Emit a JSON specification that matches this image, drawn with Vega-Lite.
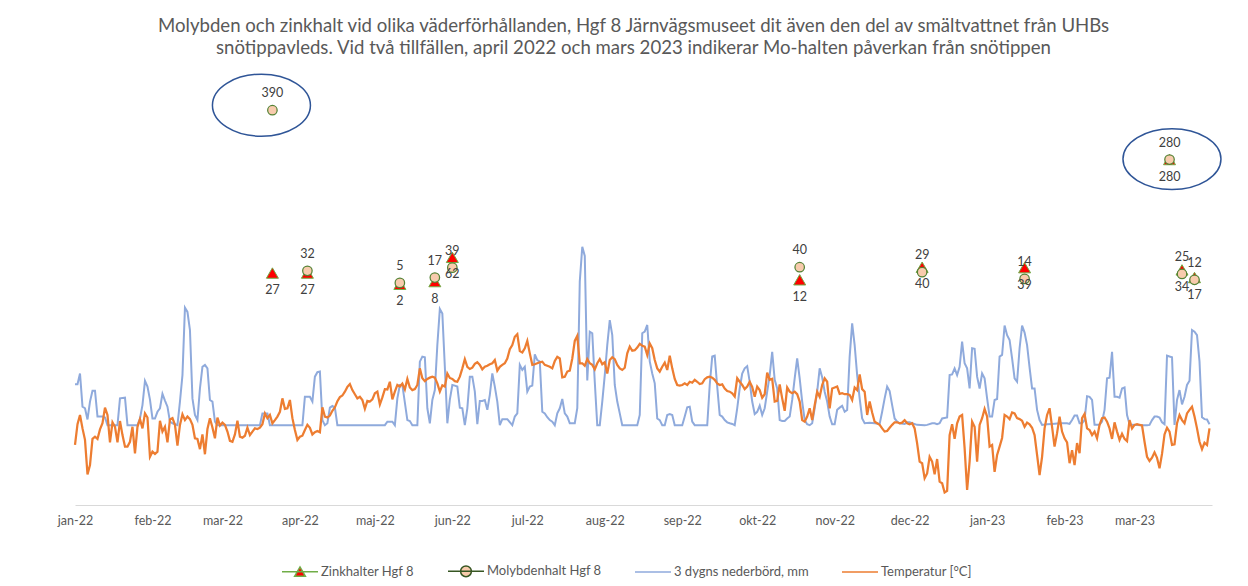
{
"$schema":"https://vega.github.io/schema/vega-lite/v6.json",
"width":1137,"height":415,
"autosize":{"type":"none"},
"padding":{"left":75,"top":90,"right":36,"bottom":81},
"background":"white",
"config":{"view":{"stroke":null},"font":"Lato"},
"title":{"text":["Molybden och zinkhalt vid olika väderförhållanden, Hgf 8 Järnvägsmuseet dit även den del av smältvattnet från UHBs","snötippavleds. Vid två tillfällen, april 2022 och mars 2023 indikerar Mo-halten påverkan från snötippen"],"anchor":"middle","fontSize":18.6,"fontWeight":"normal","color":"#595959","font":"Lato","lineHeight":22,"offset":14,"dx":-10},
"datasets":{
"precip":[
{"date":"2022/01/01","mm":12.8},{"date":"2022/01/02","mm":12.8},{"date":"2022/01/03","mm":16.2},{"date":"2022/01/04","mm":5.8},{"date":"2022/01/05","mm":5.3},{"date":"2022/01/06","mm":1.8},{"date":"2022/01/07","mm":7.4},{"date":"2022/01/08","mm":10.8},{"date":"2022/01/09","mm":10.8},{"date":"2022/01/10","mm":2.7},{"date":"2022/01/12","mm":2.7},{"date":"2022/01/13","mm":2.4},{"date":"2022/01/14","mm":0},{"date":"2022/01/18","mm":0},{"date":"2022/01/19","mm":8.4},{"date":"2022/01/21","mm":8.6},{"date":"2022/01/22","mm":0},{"date":"2022/01/26","mm":0},{"date":"2022/01/27","mm":2.1},{"date":"2022/01/28","mm":6.3},{"date":"2022/01/29","mm":13.9},{"date":"2022/01/30","mm":12.1},{"date":"2022/01/31","mm":8.0},
{"date":"2022/02/01","mm":2.1},{"date":"2022/02/02","mm":2.1},{"date":"2022/02/03","mm":4.2},{"date":"2022/02/04","mm":5.3},{"date":"2022/02/05","mm":9.8},{"date":"2022/02/06","mm":7.7},{"date":"2022/02/07","mm":5.8},{"date":"2022/02/08","mm":1.1},{"date":"2022/02/09","mm":0.6},{"date":"2022/02/11","mm":0},{"date":"2022/02/12","mm":7.4},{"date":"2022/02/13","mm":15.7},{"date":"2022/02/14","mm":36.8},{"date":"2022/02/15","mm":35.5},{"date":"2022/02/16","mm":29.8},{"date":"2022/02/17","mm":8.4},{"date":"2022/02/18","mm":3.2},{"date":"2022/02/19","mm":1.6},{"date":"2022/02/20","mm":11.5},{"date":"2022/02/21","mm":18.3},{"date":"2022/02/22","mm":18.9},{"date":"2022/02/23","mm":17.8},{"date":"2022/02/24","mm":7.9},{"date":"2022/02/25","mm":7.4},{"date":"2022/02/26","mm":1.1},{"date":"2022/02/27","mm":0},
{"date":"2022/03/16","mm":0},{"date":"2022/03/17","mm":3.7},{"date":"2022/03/19","mm":3.7},{"date":"2022/03/20","mm":0},
{"date":"2022/04/02","mm":0},{"date":"2022/04/03","mm":8.9},{"date":"2022/04/05","mm":8.9},{"date":"2022/04/06","mm":7.4},{"date":"2022/04/07","mm":15.2},{"date":"2022/04/08","mm":16.6},{"date":"2022/04/09","mm":16.8},{"date":"2022/04/10","mm":1.6},{"date":"2022/04/11","mm":0},{"date":"2022/04/12","mm":0.6},{"date":"2022/04/13","mm":5.5},{"date":"2022/04/14","mm":6.0},{"date":"2022/04/15","mm":5.5},{"date":"2022/04/16","mm":0},
{"date":"2022/05/05","mm":0},{"date":"2022/05/06","mm":1.1},{"date":"2022/05/08","mm":1.1},{"date":"2022/05/09","mm":0},{"date":"2022/05/10","mm":8.4},{"date":"2022/05/11","mm":12.6},{"date":"2022/05/12","mm":12.6},{"date":"2022/05/14","mm":1.6},{"date":"2022/05/15","mm":1.3},{"date":"2022/05/16","mm":0},{"date":"2022/05/18","mm":0},{"date":"2022/05/19","mm":19.9},{"date":"2022/05/20","mm":21.5},{"date":"2022/05/21","mm":21.3},{"date":"2022/05/22","mm":5.3},{"date":"2022/05/23","mm":0.6},{"date":"2022/05/24","mm":7.9},{"date":"2022/05/25","mm":11.0},{"date":"2022/05/26","mm":25.1},{"date":"2022/05/27","mm":36.4},{"date":"2022/05/28","mm":35.0},{"date":"2022/05/29","mm":18.3},{"date":"2022/05/30","mm":0.6},{"date":"2022/05/31","mm":8.0},
{"date":"2022/06/01","mm":12.6},{"date":"2022/06/02","mm":12.4},{"date":"2022/06/03","mm":12.1},{"date":"2022/06/04","mm":5.5},{"date":"2022/06/05","mm":5.3},{"date":"2022/06/06","mm":0},{"date":"2022/06/07","mm":5.3},{"date":"2022/06/08","mm":15.2},{"date":"2022/06/09","mm":15.2},{"date":"2022/06/10","mm":10.5},{"date":"2022/06/11","mm":0.3},{"date":"2022/06/12","mm":7.6},{"date":"2022/06/13","mm":7.6},{"date":"2022/06/14","mm":7.9},{"date":"2022/06/15","mm":4.8},{"date":"2022/06/16","mm":9.5},{"date":"2022/06/17","mm":16.2},{"date":"2022/06/18","mm":12.1},{"date":"2022/06/19","mm":7.4},{"date":"2022/06/20","mm":0},{"date":"2022/06/21","mm":1.9},{"date":"2022/06/23","mm":1.9},{"date":"2022/06/25","mm":0},{"date":"2022/06/26","mm":2.7},{"date":"2022/06/27","mm":3.7},{"date":"2022/06/28","mm":18.9},{"date":"2022/06/29","mm":17.3},{"date":"2022/06/30","mm":18.3},
{"date":"2022/07/01","mm":10.5},{"date":"2022/07/02","mm":12.1},{"date":"2022/07/03","mm":12.4},{"date":"2022/07/04","mm":22.2},{"date":"2022/07/05","mm":20.4},{"date":"2022/07/06","mm":19.9},{"date":"2022/07/07","mm":4.2},{"date":"2022/07/08","mm":3.7},{"date":"2022/07/09","mm":2.5},{"date":"2022/07/10","mm":1.6},{"date":"2022/07/11","mm":1.1},{"date":"2022/07/12","mm":0},{"date":"2022/07/13","mm":3.7},{"date":"2022/07/14","mm":5.3},{"date":"2022/07/15","mm":8.2},{"date":"2022/07/16","mm":3.7},{"date":"2022/07/17","mm":2.7},{"date":"2022/07/18","mm":0.6},{"date":"2022/07/20","mm":0.6},{"date":"2022/07/21","mm":5.3},{"date":"2022/07/22","mm":45},{"date":"2022/07/23","mm":55.9},{"date":"2022/07/24","mm":53},{"date":"2022/07/25","mm":14},{"date":"2022/07/26","mm":29.3},{"date":"2022/07/27","mm":28.8},{"date":"2022/07/28","mm":13.6},{"date":"2022/07/29","mm":0},{"date":"2022/07/30","mm":0},{"date":"2022/07/31","mm":7.4},
{"date":"2022/08/01","mm":15.7},{"date":"2022/08/02","mm":25.1},{"date":"2022/08/03","mm":32.9},{"date":"2022/08/04","mm":28.2},{"date":"2022/08/05","mm":12.6},{"date":"2022/08/06","mm":7.4},{"date":"2022/08/07","mm":3.7},{"date":"2022/08/08","mm":0},{"date":"2022/08/14","mm":0},{"date":"2022/08/15","mm":3.2},{"date":"2022/08/16","mm":28.8},{"date":"2022/08/17","mm":29.3},{"date":"2022/08/18","mm":31.4},{"date":"2022/08/19","mm":20},{"date":"2022/08/20","mm":16.2},{"date":"2022/08/21","mm":13.1},{"date":"2022/08/22","mm":2.1},{"date":"2022/08/23","mm":1.6},{"date":"2022/08/24","mm":0},{"date":"2022/08/25","mm":0},{"date":"2022/08/26","mm":3.2},{"date":"2022/08/27","mm":3.5},{"date":"2022/08/28","mm":3.2},{"date":"2022/08/29","mm":0},
{"date":"2022/09/01","mm":0},{"date":"2022/09/02","mm":2.7},{"date":"2022/09/03","mm":5.6},{"date":"2022/09/04","mm":5.8},{"date":"2022/09/05","mm":1.1},{"date":"2022/09/06","mm":0},{"date":"2022/09/11","mm":0},{"date":"2022/09/12","mm":12.6},{"date":"2022/09/13","mm":21.5},{"date":"2022/09/14","mm":21.8},{"date":"2022/09/15","mm":12.1},{"date":"2022/09/16","mm":3.2},{"date":"2022/09/17","mm":2.7},{"date":"2022/09/18","mm":1.6},{"date":"2022/09/19","mm":0.9},{"date":"2022/09/20","mm":0.6},{"date":"2022/09/21","mm":0.4},{"date":"2022/09/22","mm":0},{"date":"2022/09/23","mm":5.3},{"date":"2022/09/24","mm":11.5},{"date":"2022/09/25","mm":16.2},{"date":"2022/09/26","mm":17.8},{"date":"2022/09/27","mm":18.5},{"date":"2022/09/28","mm":13.6},{"date":"2022/09/29","mm":7.4},{"date":"2022/09/30","mm":3.5},
{"date":"2022/10/01","mm":4.2},{"date":"2022/10/02","mm":6.1},{"date":"2022/10/03","mm":3.2},{"date":"2022/10/04","mm":5.3},{"date":"2022/10/05","mm":10.5},{"date":"2022/10/06","mm":15.7},{"date":"2022/10/07","mm":23.0},{"date":"2022/10/08","mm":14.2},{"date":"2022/10/09","mm":11.5},{"date":"2022/10/10","mm":1.6},{"date":"2022/10/11","mm":1.3},{"date":"2022/10/12","mm":1.3},{"date":"2022/10/13","mm":2.1},{"date":"2022/10/14","mm":2.7},{"date":"2022/10/15","mm":7.9},{"date":"2022/10/16","mm":14.7},{"date":"2022/10/17","mm":20.9},{"date":"2022/10/18","mm":14.7},{"date":"2022/10/19","mm":7.4},{"date":"2022/10/20","mm":1.6},{"date":"2022/10/21","mm":0.3},{"date":"2022/10/22","mm":0},{"date":"2022/10/23","mm":0.6},{"date":"2022/10/24","mm":5.3},{"date":"2022/10/25","mm":10.5},{"date":"2022/10/26","mm":17.8},{"date":"2022/10/27","mm":15.0},{"date":"2022/10/28","mm":10.5},{"date":"2022/10/29","mm":7.4},{"date":"2022/10/30","mm":2.7},{"date":"2022/10/31","mm":0.3},
{"date":"2022/11/01","mm":0.3},{"date":"2022/11/02","mm":4.8},{"date":"2022/11/03","mm":5.5},{"date":"2022/11/04","mm":6.1},{"date":"2022/11/05","mm":4.2},{"date":"2022/11/06","mm":4.8},{"date":"2022/11/07","mm":21.5},{"date":"2022/11/08","mm":31.9},{"date":"2022/11/09","mm":25.1},{"date":"2022/11/10","mm":15.7},{"date":"2022/11/11","mm":8.4},{"date":"2022/11/12","mm":2.1},{"date":"2022/11/13","mm":0.6},{"date":"2022/11/15","mm":0.8},{"date":"2022/11/17","mm":0.6},{"date":"2022/11/19","mm":0.4},{"date":"2022/11/20","mm":4.2},{"date":"2022/11/21","mm":8.4},{"date":"2022/11/22","mm":12.1},{"date":"2022/11/23","mm":10.7},{"date":"2022/11/24","mm":6.3},{"date":"2022/11/25","mm":2.1},{"date":"2022/11/26","mm":1.1},{"date":"2022/11/27","mm":0.6},{"date":"2022/11/29","mm":0.4},{"date":"2022/11/30","mm":0.9},
{"date":"2022/12/01","mm":0.9},{"date":"2022/12/02","mm":0.6},{"date":"2022/12/04","mm":0.1},{"date":"2022/12/07","mm":0},{"date":"2022/12/08","mm":0.1},{"date":"2022/12/10","mm":0.6},{"date":"2022/12/11","mm":0.6},{"date":"2022/12/12","mm":0.3},{"date":"2022/12/13","mm":0.6},{"date":"2022/12/14","mm":2.1},{"date":"2022/12/16","mm":2.4},{"date":"2022/12/17","mm":15.7},{"date":"2022/12/18","mm":15.9},{"date":"2022/12/19","mm":17.8},{"date":"2022/12/20","mm":15.7},{"date":"2022/12/21","mm":18.3},{"date":"2022/12/22","mm":26.2},{"date":"2022/12/23","mm":19.4},{"date":"2022/12/24","mm":17.8},{"date":"2022/12/25","mm":11.5},{"date":"2022/12/26","mm":24.1},{"date":"2022/12/27","mm":23.9},{"date":"2022/12/28","mm":15.2},{"date":"2022/12/29","mm":11.5},{"date":"2022/12/30","mm":16.2},{"date":"2022/12/31","mm":14.7},
{"date":"2023/01/01","mm":8.4},{"date":"2023/01/02","mm":2.7},{"date":"2023/01/03","mm":2.7},{"date":"2023/01/04","mm":7.9},{"date":"2023/01/05","mm":8.2},{"date":"2023/01/06","mm":21.5},{"date":"2023/01/07","mm":22.0},{"date":"2023/01/08","mm":31.2},{"date":"2023/01/09","mm":28.2},{"date":"2023/01/10","mm":26.7},{"date":"2023/01/11","mm":20.9},{"date":"2023/01/12","mm":14.7},{"date":"2023/01/13","mm":13.6},{"date":"2023/01/14","mm":24.1},{"date":"2023/01/15","mm":31.2},{"date":"2023/01/16","mm":29},{"date":"2023/01/17","mm":25.1},{"date":"2023/01/18","mm":18},{"date":"2023/01/19","mm":11.5},{"date":"2023/01/20","mm":11.5},{"date":"2023/01/21","mm":4.8},{"date":"2023/01/22","mm":1.6},{"date":"2023/01/23","mm":0.1},{"date":"2023/01/25","mm":0.3},{"date":"2023/01/27","mm":0.4},{"date":"2023/01/29","mm":0.5},{"date":"2023/01/31","mm":0.6},
{"date":"2023/02/02","mm":0.6},{"date":"2023/02/03","mm":0.4},{"date":"2023/02/04","mm":1.6},{"date":"2023/02/05","mm":3.0},{"date":"2023/02/06","mm":3.0},{"date":"2023/02/07","mm":0.6},{"date":"2023/02/08","mm":0.6},{"date":"2023/02/09","mm":1.6},{"date":"2023/02/10","mm":9.1},{"date":"2023/02/11","mm":8.9},{"date":"2023/02/12","mm":7.9},{"date":"2023/02/13","mm":0.1},{"date":"2023/02/15","mm":0.1},{"date":"2023/02/16","mm":1.1},{"date":"2023/02/17","mm":4.8},{"date":"2023/02/18","mm":14.7},{"date":"2023/02/19","mm":14.9},{"date":"2023/02/20","mm":23.0},{"date":"2023/02/21","mm":8.9},{"date":"2023/02/22","mm":8.9},{"date":"2023/02/23","mm":8.6},{"date":"2023/02/24","mm":11.5},{"date":"2023/02/25","mm":11.8},{"date":"2023/02/26","mm":3.2},{"date":"2023/02/27","mm":0.3},{"date":"2023/02/28","mm":0.1},
{"date":"2023/03/04","mm":0},{"date":"2023/03/06","mm":0},{"date":"2023/03/07","mm":0.1},{"date":"2023/03/08","mm":1.6},{"date":"2023/03/09","mm":2.7},{"date":"2023/03/10","mm":2.7},{"date":"2023/03/11","mm":2.4},{"date":"2023/03/12","mm":0.9},{"date":"2023/03/13","mm":0.3},{"date":"2023/03/14","mm":21.8},{"date":"2023/03/15","mm":21.5},{"date":"2023/03/16","mm":21.3},{"date":"2023/03/17","mm":0.1},{"date":"2023/03/18","mm":7.9},{"date":"2023/03/19","mm":11.0},{"date":"2023/03/20","mm":6.5},{"date":"2023/03/21","mm":8.9},{"date":"2023/03/22","mm":12.6},{"date":"2023/03/23","mm":13.9},{"date":"2023/03/24","mm":29.8},{"date":"2023/03/25","mm":29.3},{"date":"2023/03/26","mm":28.2},{"date":"2023/03/27","mm":20},{"date":"2023/03/28","mm":2.5},{"date":"2023/03/29","mm":1.9},{"date":"2023/03/30","mm":1.8},{"date":"2023/03/31","mm":0.3}
],
"temp":[
{"date":"2022/01/01","t":-6.2},{"date":"2022/01/02","t":0.3},{"date":"2022/01/03","t":3.2},{"date":"2022/01/04","t":-1.0},{"date":"2022/01/05","t":-4.6},{"date":"2022/01/06","t":-15.4},{"date":"2022/01/07","t":-12.5},{"date":"2022/01/08","t":-4.3},{"date":"2022/01/09","t":-3.6},{"date":"2022/01/10","t":-4.3},{"date":"2022/01/11","t":-1.3},{"date":"2022/01/12","t":0.6},{"date":"2022/01/13","t":5.5},{"date":"2022/01/14","t":3.2},{"date":"2022/01/15","t":-5.4},{"date":"2022/01/16","t":0.9},{"date":"2022/01/17","t":-0.5},{"date":"2022/01/18","t":-5.4},{"date":"2022/01/19","t":1.3},{"date":"2022/01/20","t":-3.1},{"date":"2022/01/21","t":-6.7},{"date":"2022/01/22","t":-6.7},{"date":"2022/01/23","t":-5.2},{"date":"2022/01/24","t":-0.5},{"date":"2022/01/25","t":-8.8},{"date":"2022/01/26","t":-0.5},{"date":"2022/01/27","t":1.9},{"date":"2022/01/28","t":-1.0},{"date":"2022/01/29","t":3.7},{"date":"2022/01/30","t":2.4},{"date":"2022/01/31","t":-9.9},
{"date":"2022/02/01","t":-8.3},{"date":"2022/02/02","t":-9.0},{"date":"2022/02/03","t":-8.3},{"date":"2022/02/04","t":1.4},{"date":"2022/02/05","t":-2.0},{"date":"2022/02/06","t":-0.5},{"date":"2022/02/07","t":-5.4},{"date":"2022/02/08","t":1.8},{"date":"2022/02/09","t":2.2},{"date":"2022/02/10","t":0.1},{"date":"2022/02/11","t":-6.4},{"date":"2022/02/12","t":0.1},{"date":"2022/02/13","t":3.4},{"date":"2022/02/14","t":1.6},{"date":"2022/02/15","t":2.7},{"date":"2022/02/16","t":1.9},{"date":"2022/02/17","t":0.1},{"date":"2022/02/18","t":-4.1},{"date":"2022/02/19","t":-4.3},{"date":"2022/02/20","t":-7.5},{"date":"2022/02/21","t":-2.9},{"date":"2022/02/22","t":-9.1},{"date":"2022/02/23","t":-1.2},{"date":"2022/02/24","t":2.2},{"date":"2022/02/25","t":-0.7},{"date":"2022/02/26","t":-4.1},{"date":"2022/02/27","t":2.4},{"date":"2022/02/28","t":-0.1},
{"date":"2022/03/01","t":0.8},{"date":"2022/03/02","t":0.1},{"date":"2022/03/03","t":-2.0},{"date":"2022/03/04","t":-4.9},{"date":"2022/03/05","t":-5.2},{"date":"2022/03/06","t":-2.9},{"date":"2022/03/07","t":1.4},{"date":"2022/03/08","t":-3.6},{"date":"2022/03/09","t":-3.9},{"date":"2022/03/10","t":-3.3},{"date":"2022/03/11","t":-0.8},{"date":"2022/03/12","t":-3.1},{"date":"2022/03/13","t":-2.0},{"date":"2022/03/14","t":-1.0},{"date":"2022/03/15","t":-1.2},{"date":"2022/03/16","t":-0.8},{"date":"2022/03/17","t":0.3},{"date":"2022/03/18","t":3.7},{"date":"2022/03/19","t":2.2},{"date":"2022/03/20","t":3.2},{"date":"2022/03/21","t":0.6},{"date":"2022/03/22","t":1.6},{"date":"2022/03/23","t":2.7},{"date":"2022/03/24","t":4.2},{"date":"2022/03/25","t":8.4},{"date":"2022/03/26","t":5.1},{"date":"2022/03/27","t":5.3},{"date":"2022/03/28","t":7.9},{"date":"2022/03/29","t":2.2},{"date":"2022/03/30","t":-1.5},{"date":"2022/03/31","t":-4.6},
{"date":"2022/04/01","t":-3.6},{"date":"2022/04/02","t":-3.3},{"date":"2022/04/03","t":-1.5},{"date":"2022/04/04","t":0.1},{"date":"2022/04/05","t":-0.8},{"date":"2022/04/06","t":-2.9},{"date":"2022/04/07","t":-2.2},{"date":"2022/04/08","t":-1.8},{"date":"2022/04/09","t":-2.2},{"date":"2022/04/10","t":5.6},{"date":"2022/04/11","t":2.7},{"date":"2022/04/12","t":2.4},{"date":"2022/04/13","t":3.0},{"date":"2022/04/14","t":4.5},{"date":"2022/04/15","t":5.6},{"date":"2022/04/16","t":7.5},{"date":"2022/04/17","t":8.8},{"date":"2022/04/18","t":9.3},{"date":"2022/04/19","t":10.5},{"date":"2022/04/20","t":12.0},{"date":"2022/04/21","t":12.9},{"date":"2022/04/22","t":11.0},{"date":"2022/04/23","t":9.7},{"date":"2022/04/24","t":8.4},{"date":"2022/04/25","t":8.9},{"date":"2022/04/26","t":7.9},{"date":"2022/04/27","t":5.1},{"date":"2022/04/28","t":7.6},{"date":"2022/04/29","t":7.4},{"date":"2022/04/30","t":8.1},
{"date":"2022/05/01","t":10.0},{"date":"2022/05/02","t":10.5},{"date":"2022/05/03","t":6.5},{"date":"2022/05/04","t":8.7},{"date":"2022/05/05","t":11.3},{"date":"2022/05/06","t":11.2},{"date":"2022/05/07","t":13.6},{"date":"2022/05/08","t":8.1},{"date":"2022/05/09","t":10.5},{"date":"2022/05/10","t":12.6},{"date":"2022/05/11","t":12.1},{"date":"2022/05/12","t":13.0},{"date":"2022/05/13","t":11.2},{"date":"2022/05/14","t":14.5},{"date":"2022/05/15","t":11.8},{"date":"2022/05/16","t":11.0},{"date":"2022/05/17","t":11.3},{"date":"2022/05/18","t":12.6},{"date":"2022/05/19","t":17.8},{"date":"2022/05/20","t":14.7},{"date":"2022/05/21","t":13.8},{"date":"2022/05/22","t":14.5},{"date":"2022/05/23","t":14.9},{"date":"2022/05/24","t":15.2},{"date":"2022/05/25","t":14.9},{"date":"2022/05/26","t":13.1},{"date":"2022/05/27","t":10.5},{"date":"2022/05/28","t":12.5},{"date":"2022/05/29","t":12.1},{"date":"2022/05/30","t":16.2},{"date":"2022/05/31","t":14.8},
{"date":"2022/06/01","t":14.5},{"date":"2022/06/02","t":13.8},{"date":"2022/06/03","t":13.6},{"date":"2022/06/04","t":15.2},{"date":"2022/06/05","t":17.8},{"date":"2022/06/06","t":20.7},{"date":"2022/06/07","t":18.3},{"date":"2022/06/08","t":17.6},{"date":"2022/06/09","t":18.0},{"date":"2022/06/10","t":19.2},{"date":"2022/06/11","t":19.7},{"date":"2022/06/12","t":18.9},{"date":"2022/06/13","t":17.5},{"date":"2022/06/14","t":18.3},{"date":"2022/06/15","t":18.6},{"date":"2022/06/16","t":19.1},{"date":"2022/06/17","t":19.4},{"date":"2022/06/18","t":20.4},{"date":"2022/06/19","t":17.1},{"date":"2022/06/20","t":18.3},{"date":"2022/06/21","t":18.9},{"date":"2022/06/22","t":19.4},{"date":"2022/06/23","t":20.9},{"date":"2022/06/24","t":23.8},{"date":"2022/06/25","t":25.1},{"date":"2022/06/26","t":27.7},{"date":"2022/06/27","t":28.5},{"date":"2022/06/28","t":23.2},{"date":"2022/06/29","t":22.8},{"date":"2022/06/30","t":24.1},
{"date":"2022/07/01","t":26.4},{"date":"2022/07/02","t":22.5},{"date":"2022/07/03","t":18.9},{"date":"2022/07/04","t":19.1},{"date":"2022/07/05","t":19.4},{"date":"2022/07/06","t":19.7},{"date":"2022/07/07","t":19.9},{"date":"2022/07/08","t":18.9},{"date":"2022/07/09","t":18.6},{"date":"2022/07/10","t":18.3},{"date":"2022/07/11","t":17.8},{"date":"2022/07/12","t":20.1},{"date":"2022/07/13","t":21.4},{"date":"2022/07/14","t":20.9},{"date":"2022/07/15","t":15.0},{"date":"2022/07/16","t":15.2},{"date":"2022/07/17","t":16.8},{"date":"2022/07/18","t":17.1},{"date":"2022/07/19","t":20.9},{"date":"2022/07/20","t":26.4},{"date":"2022/07/21","t":28.0},{"date":"2022/07/22","t":19.4},{"date":"2022/07/23","t":19.4},{"date":"2022/07/24","t":18.6},{"date":"2022/07/25","t":20.7},{"date":"2022/07/26","t":19.4},{"date":"2022/07/27","t":18.9},{"date":"2022/07/28","t":17.5},{"date":"2022/07/29","t":19.4},{"date":"2022/07/30","t":20.7},{"date":"2022/07/31","t":19.1},
{"date":"2022/08/01","t":19.7},{"date":"2022/08/02","t":16.2},{"date":"2022/08/03","t":20.4},{"date":"2022/08/04","t":21.3},{"date":"2022/08/05","t":20.7},{"date":"2022/08/06","t":18.9},{"date":"2022/08/07","t":17.8},{"date":"2022/08/08","t":17.3},{"date":"2022/08/09","t":18.0},{"date":"2022/08/10","t":22.5},{"date":"2022/08/11","t":24.6},{"date":"2022/08/12","t":23.3},{"date":"2022/08/13","t":23.5},{"date":"2022/08/14","t":24.3},{"date":"2022/08/15","t":25.5},{"date":"2022/08/16","t":24.9},{"date":"2022/08/17","t":24.6},{"date":"2022/08/18","t":22.0},{"date":"2022/08/19","t":25.6},{"date":"2022/08/20","t":24.1},{"date":"2022/08/21","t":20.4},{"date":"2022/08/22","t":17.8},{"date":"2022/08/23","t":16.8},{"date":"2022/08/24","t":18.3},{"date":"2022/08/25","t":19.6},{"date":"2022/08/26","t":17.3},{"date":"2022/08/27","t":21.8},{"date":"2022/08/28","t":17.8},{"date":"2022/08/29","t":14.5},{"date":"2022/08/30","t":12.6},{"date":"2022/08/31","t":12.4},
{"date":"2022/09/01","t":12.6},{"date":"2022/09/02","t":13.1},{"date":"2022/09/03","t":12.6},{"date":"2022/09/04","t":13.6},{"date":"2022/09/05","t":13.3},{"date":"2022/09/06","t":14.2},{"date":"2022/09/07","t":13.6},{"date":"2022/09/08","t":12.9},{"date":"2022/09/09","t":13.1},{"date":"2022/09/10","t":14.4},{"date":"2022/09/11","t":15.0},{"date":"2022/09/12","t":15.2},{"date":"2022/09/13","t":14.9},{"date":"2022/09/14","t":14.2},{"date":"2022/09/15","t":13.1},{"date":"2022/09/16","t":12.6},{"date":"2022/09/17","t":12.8},{"date":"2022/09/18","t":11.5},{"date":"2022/09/19","t":10.7},{"date":"2022/09/20","t":10.5},{"date":"2022/09/21","t":10.0},{"date":"2022/09/22","t":9.0},{"date":"2022/09/23","t":14.7},{"date":"2022/09/24","t":13.6},{"date":"2022/09/25","t":12.6},{"date":"2022/09/26","t":11.3},{"date":"2022/09/27","t":12.1},{"date":"2022/09/28","t":13.6},{"date":"2022/09/29","t":12.0},{"date":"2022/09/30","t":8.9},
{"date":"2022/10/01","t":12.1},{"date":"2022/10/02","t":11.0},{"date":"2022/10/03","t":8.6},{"date":"2022/10/04","t":9.7},{"date":"2022/10/05","t":16.5},{"date":"2022/10/06","t":14.2},{"date":"2022/10/07","t":14.5},{"date":"2022/10/08","t":7.4},{"date":"2022/10/09","t":7.6},{"date":"2022/10/10","t":12.8},{"date":"2022/10/11","t":8.4},{"date":"2022/10/12","t":4.5},{"date":"2022/10/13","t":11.8},{"date":"2022/10/14","t":10.5},{"date":"2022/10/15","t":10.0},{"date":"2022/10/16","t":10.5},{"date":"2022/10/17","t":9.7},{"date":"2022/10/18","t":7.4},{"date":"2022/10/19","t":1.6},{"date":"2022/10/20","t":1.1},{"date":"2022/10/21","t":2.7},{"date":"2022/10/22","t":5.3},{"date":"2022/10/23","t":1.6},{"date":"2022/10/24","t":6.3},{"date":"2022/10/25","t":10.5},{"date":"2022/10/26","t":8.9},{"date":"2022/10/27","t":12.6},{"date":"2022/10/28","t":14.7},{"date":"2022/10/29","t":13.6},{"date":"2022/10/30","t":5.3},{"date":"2022/10/31","t":11.5},
{"date":"2022/11/01","t":11.8},{"date":"2022/11/02","t":12.1},{"date":"2022/11/03","t":9.8},{"date":"2022/11/04","t":10.0},{"date":"2022/11/05","t":9.7},{"date":"2022/11/06","t":9.7},{"date":"2022/11/07","t":9.5},{"date":"2022/11/08","t":7.9},{"date":"2022/11/09","t":11.8},{"date":"2022/11/10","t":11.0},{"date":"2022/11/11","t":15.9},{"date":"2022/11/12","t":11.3},{"date":"2022/11/13","t":10.5},{"date":"2022/11/14","t":3.2},{"date":"2022/11/15","t":7.4},{"date":"2022/11/16","t":4.0},{"date":"2022/11/17","t":1.1},{"date":"2022/11/18","t":0.6},{"date":"2022/11/19","t":0.1},{"date":"2022/11/20","t":-1.0},{"date":"2022/11/21","t":-2.0},{"date":"2022/11/22","t":-1.8},{"date":"2022/11/23","t":-0.8},{"date":"2022/11/24","t":0.1},{"date":"2022/11/25","t":0.9},{"date":"2022/11/26","t":0.9},{"date":"2022/11/27","t":0.6},{"date":"2022/11/28","t":0.8},{"date":"2022/11/29","t":1.6},{"date":"2022/11/30","t":0.6},
{"date":"2022/12/01","t":0.3},{"date":"2022/12/02","t":0.6},{"date":"2022/12/03","t":-1.0},{"date":"2022/12/04","t":-5.7},{"date":"2022/12/05","t":-11.4},{"date":"2022/12/06","t":-11.9},{"date":"2022/12/07","t":-16.6},{"date":"2022/12/08","t":-15.1},{"date":"2022/12/09","t":-9.9},{"date":"2022/12/10","t":-11.4},{"date":"2022/12/11","t":-15.4},{"date":"2022/12/12","t":-10.6},{"date":"2022/12/13","t":-17.7},{"date":"2022/12/14","t":-18.2},{"date":"2022/12/15","t":-21.1},{"date":"2022/12/16","t":-20.6},{"date":"2022/12/17","t":-3.1},{"date":"2022/12/18","t":0.3},{"date":"2022/12/19","t":-4.3},{"date":"2022/12/20","t":0.6},{"date":"2022/12/21","t":2.7},{"date":"2022/12/22","t":3.2},{"date":"2022/12/23","t":-7.2},{"date":"2022/12/24","t":-20.3},{"date":"2022/12/25","t":-11.4},{"date":"2022/12/26","t":1.1},{"date":"2022/12/27","t":-0.5},{"date":"2022/12/28","t":-11.4},{"date":"2022/12/29","t":0.1},{"date":"2022/12/30","t":2.2},{"date":"2022/12/31","t":5.1},
{"date":"2023/01/01","t":2.7},{"date":"2023/01/02","t":-6.7},{"date":"2023/01/03","t":-6.2},{"date":"2023/01/04","t":-14.6},{"date":"2023/01/05","t":-9.3},{"date":"2023/01/06","t":-6.7},{"date":"2023/01/07","t":-4.0},{"date":"2023/01/08","t":3.2},{"date":"2023/01/09","t":2.7},{"date":"2023/01/10","t":1.9},{"date":"2023/01/11","t":4.0},{"date":"2023/01/12","t":3.7},{"date":"2023/01/13","t":2.2},{"date":"2023/01/14","t":1.9},{"date":"2023/01/15","t":1.4},{"date":"2023/01/16","t":-0.5},{"date":"2023/01/17","t":0.8},{"date":"2023/01/18","t":0.3},{"date":"2023/01/19","t":-0.8},{"date":"2023/01/20","t":-3.1},{"date":"2023/01/21","t":-9.3},{"date":"2023/01/22","t":-15.6},{"date":"2023/01/23","t":-9.9},{"date":"2023/01/24","t":-1.0},{"date":"2023/01/25","t":3.2},{"date":"2023/01/26","t":5.3},{"date":"2023/01/27","t":-0.5},{"date":"2023/01/28","t":-6.7},{"date":"2023/01/29","t":-2.5},{"date":"2023/01/30","t":2.7},{"date":"2023/01/31","t":-2.0},
{"date":"2023/02/01","t":-4.1},{"date":"2023/02/02","t":-5.4},{"date":"2023/02/03","t":-11.9},{"date":"2023/02/04","t":-7.8},{"date":"2023/02/05","t":-12.5},{"date":"2023/02/06","t":-5.6},{"date":"2023/02/07","t":-8.8},{"date":"2023/02/08","t":2.2},{"date":"2023/02/09","t":3.5},{"date":"2023/02/10","t":-1.0},{"date":"2023/02/11","t":-1.5},{"date":"2023/02/12","t":-3.1},{"date":"2023/02/13","t":-2.0},{"date":"2023/02/14","t":-4.1},{"date":"2023/02/15","t":0.1},{"date":"2023/02/16","t":2.2},{"date":"2023/02/17","t":2.4},{"date":"2023/02/18","t":1.1},{"date":"2023/02/19","t":-1.0},{"date":"2023/02/20","t":-4.3},{"date":"2023/02/21","t":0.9},{"date":"2023/02/22","t":-2.0},{"date":"2023/02/23","t":-4.6},{"date":"2023/02/24","t":-2.7},{"date":"2023/02/25","t":-4.3},{"date":"2023/02/26","t":-5.0},{"date":"2023/02/27","t":1.6},{"date":"2023/02/28","t":-1.0},
{"date":"2023/03/01","t":0.1},{"date":"2023/03/02","t":0.3},{"date":"2023/03/03","t":0.1},{"date":"2023/03/04","t":-0.1},{"date":"2023/03/05","t":-5.2},{"date":"2023/03/06","t":-9.9},{"date":"2023/03/07","t":-11.2},{"date":"2023/03/08","t":-10.2},{"date":"2023/03/09","t":-8.5},{"date":"2023/03/10","t":-10.2},{"date":"2023/03/11","t":-13.5},{"date":"2023/03/12","t":-9.0},{"date":"2023/03/13","t":-2.9},{"date":"2023/03/14","t":-0.8},{"date":"2023/03/15","t":-2.0},{"date":"2023/03/16","t":-6.2},{"date":"2023/03/17","t":-6.0},{"date":"2023/03/18","t":0.6},{"date":"2023/03/19","t":3.2},{"date":"2023/03/20","t":1.6},{"date":"2023/03/21","t":0.6},{"date":"2023/03/22","t":3.7},{"date":"2023/03/23","t":4.8},{"date":"2023/03/24","t":5.8},{"date":"2023/03/25","t":2.7},{"date":"2023/03/26","t":-1.0},{"date":"2023/03/27","t":-5.2},{"date":"2023/03/28","t":-7.5},{"date":"2023/03/29","t":-5.5},{"date":"2023/03/30","t":-6.2},{"date":"2023/03/31","t":-1.0}
],
"lab":[
{"date":"2022/03/21","Mo":390,"Zn":27},
{"date":"2022/04/04","Mo":32,"Zn":27},
{"date":"2022/05/11","Mo":5,"Zn":2},
{"date":"2022/05/25","Mo":17,"Zn":8},
{"date":"2022/06/01","Mo":39,"Zn":62},
{"date":"2022/10/18","Mo":40,"Zn":12},
{"date":"2022/12/06","Mo":29,"Zn":40},
{"date":"2023/01/16","Mo":14,"Zn":39},
{"date":"2023/03/15","Mo":280,"Zn":280},
{"date":"2023/03/20","Mo":25,"Zn":34},
{"date":"2023/03/25","Mo":12,"Zn":17}
]
},
"encoding":{"x":{"field":"date","type":"temporal","title":null,
 "scale":{"domain":[{"year":2022,"month":1,"date":1},{"year":2023,"month":4,"date":1}],"nice":false},
 "axis":{"values":[{"year":2022,"month":1,"date":1},{"year":2022,"month":2,"date":1},{"year":2022,"month":3,"date":1},{"year":2022,"month":4,"date":1},{"year":2022,"month":5,"date":1},{"year":2022,"month":6,"date":1},{"year":2022,"month":7,"date":1},{"year":2022,"month":8,"date":1},{"year":2022,"month":9,"date":1},{"year":2022,"month":10,"date":1},{"year":2022,"month":11,"date":1},{"year":2022,"month":12,"date":1},{"year":2023,"month":1,"date":1},{"year":2023,"month":2,"date":1},{"year":2023,"month":3,"date":1}],
  "labelExpr":"['jan','feb','mar','apr','maj','jun','jul','aug','sep','okt','nov','dec'][month(datum.value)] + '-' + timeFormat(datum.value, '%y')",
  "ticks":false,"grid":false,"domainColor":"#D9D9D9","domainWidth":1,"labelFont":"Lato","labelFontSize":12.5,"labelColor":"#595959","labelPadding":9,"labelOverlap":false,"labelFlush":false}}},
"layer":[
 {"data":{"name":"precip"},"mark":{"type":"line","stroke":"#8FAADC","strokeWidth":2},
  "encoding":{"y":{"field":"mm","type":"quantitative","scale":{"domain":[-25,105],"nice":false,"zero":false},"axis":null}}},
 {"data":{"name":"temp"},"mark":{"type":"line","stroke":"#ED7D31","strokeWidth":2.25},
  "encoding":{"y":{"field":"t","type":"quantitative","scale":{"domain":[-25,105],"nice":false,"zero":false},"axis":null}}},
 {"data":{"name":"lab"},"transform":[{"filter":"datum.Mo == 390"}],
  "mark":{"type":"point","shape":"M-1.224,-0.102A1,0.633 0 1,1 0.776,-0.102A1,0.633 0 1,1 -1.224,-0.102Z","size":9604,"filled":false,"stroke":"#2F5597","strokeWidth":1.5,"opacity":1},
  "encoding":{"y":{"field":"Mo","type":"quantitative","scale":{"domain":[-490,435],"nice":false,"zero":false},"axis":null}}},
 {"data":{"name":"lab"},"transform":[{"filter":"datum.Mo == 280"}],
  "mark":{"type":"point","shape":"M-0.95,-0.01A1,0.62 0 1,1 1.05,-0.01A1,0.62 0 1,1 -0.95,-0.01Z","size":9604,"filled":false,"stroke":"#2F5597","strokeWidth":1.5,"opacity":1},
  "encoding":{"y":{"field":"Mo","type":"quantitative","scale":{"domain":[-490,435],"nice":false,"zero":false},"axis":null}}},
 {"data":{"name":"lab"},
  "mark":{"type":"point","shape":"triangle-up","size":144,"filled":true,"fill":"#FF0000","stroke":"#70AD47","strokeWidth":1,"opacity":1},
  "encoding":{"y":{"field":"Zn","type":"quantitative","scale":{"domain":[-490,435],"nice":false,"zero":false},"axis":null}}},
 {"data":{"name":"lab"},
  "mark":{"type":"point","shape":"circle","size":90,"filled":true,"fill":"#F8CBAD","stroke":"#548235","strokeWidth":1.25,"opacity":1},
  "encoding":{"y":{"field":"Mo","type":"quantitative","scale":{"domain":[-490,435],"nice":false,"zero":false},"axis":null}}},
 {"data":{"name":"lab"},
  "mark":{"type":"text","dy":17,"font":"Lato","fontSize":12.5,"color":"#404040","baseline":"middle"},
  "encoding":{"y":{"field":"Zn","type":"quantitative","scale":{"domain":[-490,435],"nice":false,"zero":false},"axis":null},"text":{"field":"Zn","type":"quantitative"}}},
 {"data":{"name":"lab"},
  "mark":{"type":"text","dy":-17,"font":"Lato","fontSize":12.5,"color":"#404040","baseline":"middle"},
  "encoding":{"y":{"field":"Mo","type":"quantitative","scale":{"domain":[-490,435],"nice":false,"zero":false},"axis":null},"text":{"field":"Mo","type":"quantitative"}}},
 {"data":{"values":[]},"mark":{"type":"point","opacity":1,"filled":true},
  "encoding":{
   "fill":{"field":"series","type":"nominal",
    "scale":{"domain":["Zinkhalter Hgf 8","Molybdenhalt Hgf 8","3 dygns nederbörd, mm","Temperatur [°C]"],"range":["#FF0000","#F8CBAD","transparent","transparent"]}},
   "stroke":{"field":"series","type":"nominal",
    "scale":{"domain":["Zinkhalter Hgf 8","Molybdenhalt Hgf 8","3 dygns nederbörd, mm","Temperatur [°C]"],"range":["#70AD47","#375623","#8FAADC","#ED7D31"]}},
   "shape":{"field":"series","type":"nominal",
    "scale":{"domain":["Zinkhalter Hgf 8","Molybdenhalt Hgf 8","3 dygns nederbörd, mm","Temperatur [°C]"],
             "range":["M-1,0H1M-0.3,0.26L0,-0.26L0.3,0.26Z","M-1,0H1M-0.3,0A0.3,0.3 0 1,1 0.3,0A0.3,0.3 0 1,1 -0.3,0Z","M-1,0H1","M-1,0H1"]},
    "legend":{"title":null,"orient":"none","legendX":206,"legendY":462,"direction":"horizontal","symbolSize":1296,"symbolStrokeWidth":1.5,
     "labelFont":"Lato","labelFontSize":13,"labelColor":"#595959","labelOffset":2,"columnPadding":30}}}}
],
"resolve":{"scale":{"y":"independent"}}
}
